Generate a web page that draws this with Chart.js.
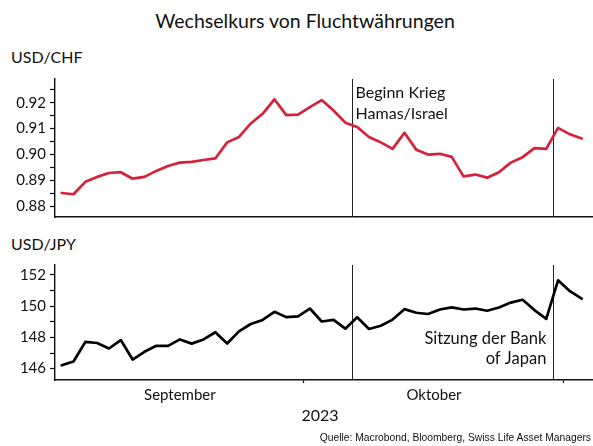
<!DOCTYPE html>
<html>
<head>
<meta charset="utf-8">
<script src="https://cdn.jsdelivr.net/npm/chart.js@4.4.0/dist/chart.umd.min.js"></script>
<style>
    body { margin: 0; background: #fff; }
    #wrap { position: relative; width: 593px; height: 446px; overflow: hidden; font-family: Lato, "Noto Sans", sans-serif; color: #111; }
    .txt { position: absolute; white-space: nowrap; line-height: 1; }
    .box { position: absolute; left: 0; width: 593px; }
</style>
</head>
<body>
<div id="wrap">
    <div class="txt" id="title" style="left:305px; top:11px; font-size:19.5px; transform:translateX(-50%);">Wechselkurs von Fluchtwährungen</div>
    <div class="txt" style="left:11px; top:49px; font-size:16px;">USD/CHF</div>
    <div class="txt" style="left:11px; top:236px; font-size:16px;">USD/JPY</div>
    <div class="box" style="top:66px; height:164px;"><canvas id="chfChart"></canvas></div>
    <div class="box" style="top:252px; height:168px;"><canvas id="jpyChart"></canvas></div>
    <div class="txt" id="year" style="left:320px; top:407px; font-size:16px; transform:translateX(-50%);">2023</div>
    <div class="txt" style="right:2px; top:433px; font-size:10.3px; font-family:'Liberation Sans', Arial, sans-serif;">Quelle: Macrobond, Bloomberg, Swiss Life Asset Managers</div>
</div>

<script>
// Handelstage
const dates = [
    "2023-09-01", "2023-09-04", "2023-09-05", "2023-09-06", "2023-09-07", "2023-09-08",
    "2023-09-11", "2023-09-12", "2023-09-13", "2023-09-14", "2023-09-15",
    "2023-09-18", "2023-09-19", "2023-09-20", "2023-09-21", "2023-09-22",
    "2023-09-25", "2023-09-26", "2023-09-27", "2023-09-28", "2023-09-29",
    "2023-10-02", "2023-10-03", "2023-10-04", "2023-10-05", "2023-10-06",
    "2023-10-09", "2023-10-10", "2023-10-11", "2023-10-12", "2023-10-13",
    "2023-10-16", "2023-10-17", "2023-10-18", "2023-10-19", "2023-10-20",
    "2023-10-23", "2023-10-24", "2023-10-25", "2023-10-26", "2023-10-27",
    "2023-10-30", "2023-10-31", "2023-11-01", "2023-11-02"
];

// USD/CHF
const usdChf = [
    0.8852, 0.8847, 0.8895, 0.8914, 0.8929, 0.8932,
    0.8907, 0.8914, 0.8937, 0.8956, 0.8969,
    0.8972, 0.8979, 0.8985, 0.9047, 0.9068,
    0.9120, 0.9157, 0.9213, 0.9152, 0.9154,
    0.9183, 0.9210, 0.9170, 0.9123, 0.9106,
    0.9068, 0.9047, 0.9022, 0.9084, 0.9019,
    0.9000, 0.9003, 0.8991, 0.8916, 0.8923,
    0.8911, 0.8932, 0.8969, 0.8990, 0.9025,
    0.9022, 0.9103, 0.9078, 0.9062
];

// USD/JPY
const usdJpy = [
    146.21, 146.46, 147.71, 147.64, 147.29, 147.83,
    146.58, 147.08, 147.46, 147.46, 147.87,
    147.60, 147.87, 148.33, 147.61, 148.39,
    148.86, 149.12, 149.64, 149.30, 149.35,
    149.85, 149.02, 149.12, 148.56, 149.29,
    148.54, 148.75, 149.14, 149.81, 149.58,
    149.50, 149.79, 149.92, 149.79, 149.85,
    149.71, 149.92, 150.23, 150.41, 149.75,
    149.19, 151.66, 150.96, 150.48
];

// Achsenbeschriftungen
const chfLabels = [0.88, 0.89, 0.90, 0.91, 0.92];
const jpyLabels = [146, 148, 150, 152];
const months = ["September", "Oktober"];

// Ereignisse (Position auf der Handelstag-Achse)
const eventAt = [24.53, 41.6];
const eventText = [["Beginn Krieg", "Hamas/Israel"], ["Sitzung der Bank", "of Japan"]];

// Monatswechsel aus den Daten ableiten
const monthStarts = [];
dates.forEach((d, i) => {
    if (i > 0 && d.slice(5, 7) !== dates[i - 1].slice(5, 7)) monthStarts.push(i - 0.5);
});
const monthCenters = months.map((m, i) => ((i === 0 ? -0.5 : monthStarts[i - 1]) + monthStarts[i]) / 2);

const FONT = "Lato, 'Noto Sans', sans-serif";
const INK = "#111";

function points(values) {
    return values.map((v, i) => ({ x: i, y: v }));
}

// Vertikale Linien + Texte
const eventLines = {
    id: "eventLines",
    beforeDatasetsDraw(chart) {
        const { ctx, chartArea, scales } = chart;
        ctx.save();
        ctx.strokeStyle = "#222";
        ctx.lineWidth = 1;
        eventAt.forEach(v => {
            const px = Math.round(scales.x.getPixelForValue(v)) + 0.5;
            ctx.beginPath();
            ctx.moveTo(px, chartArea.top);
            ctx.lineTo(px, chartArea.bottom);
            ctx.stroke();
        });
        ctx.restore();
    },
    afterDatasetsDraw(chart, args, opts) {
        if (opts.which === undefined) return;
        const { ctx, chartArea, scales } = chart;
        const px = scales.x.getPixelForValue(eventAt[opts.which]);
        ctx.save();
        ctx.fillStyle = INK;
        ctx.textBaseline = "alphabetic";
        eventText[opts.which].forEach((t, k) => {
            if (opts.which === 0) {
                ctx.font = "16px " + FONT;
                ctx.textAlign = "left";
                ctx.fillText(t, px + 4, chartArea.top + 19 + k * 21);
            } else {
                ctx.font = "16.5px " + FONT;
                ctx.textAlign = "right";
                ctx.fillText(t, px - 7, chartArea.bottom - 36 + k * 19.5);
            }
        });
        ctx.restore();
    }
};

function yAxis(min, max, step, labels, digits) {
    return {
        min: min,
        max: max,
        afterFit: s => { s.width = 55; },
        border: { display: true, color: INK, width: 1.4 },
        grid: { drawOnChartArea: false, drawTicks: true, tickLength: 5, tickColor: INK, tickWidth: 1.2 },
        ticks: {
            stepSize: step,
            includeBounds: false,
            autoSkip: false,
            padding: 4,
            color: INK,
            font: { family: FONT, size: 15 },
            callback: v => labels.some(l => Math.abs(l - v) < 1e-6) ? v.toFixed(digits) : ""
        }
    };
}

const xRange = { min: -0.567, max: 44.956 };

function baseOptions() {
    return {
        responsive: true,
        maintainAspectRatio: false,
        animation: false,
        events: [],
        plugins: { legend: { display: false }, tooltip: { enabled: false } },
        elements: { point: { radius: 0 }, line: { tension: 0, borderJoinStyle: "round", borderCapStyle: "round" } }
    };
}

// Oberes Panel: USD/CHF
const chfOpts = baseOptions();
chfOpts.layout = { padding: { top: 10, bottom: 0, left: 0, right: 0 } };
chfOpts.plugins.eventLines = { which: 0 };
chfOpts.scales = {
    x: {
        type: "linear",
        min: xRange.min,
        max: xRange.max,
        afterFit: s => { s.height = 10; },
        border: { display: true, color: INK, width: 1.4 },
        grid: { display: false },
        ticks: { display: false }
    },
    y: yAxis(0.87594, 0.92912, 0.005, chfLabels, 2)
};

new Chart(document.getElementById("chfChart"), {
    type: "line",
    data: {
        datasets: [{
            data: points(usdChf),
            borderColor: "#d7213c",
            borderWidth: 2.7
        }]
    },
    options: chfOpts,
    plugins: [eventLines]
});

// Unteres Panel: USD/JPY
const jpyOpts = baseOptions();
jpyOpts.layout = { padding: { top: 10, bottom: 0, left: 0, right: 0 } };
jpyOpts.plugins.eventLines = { which: 1 };
jpyOpts.scales = {
    x: {
        type: "linear",
        min: xRange.min,
        max: xRange.max,
        afterFit: s => { s.height = 40; },
        afterBuildTicks: s => {
            s.ticks = monthStarts.map(v => ({ value: v })).concat(monthCenters.map(v => ({ value: v })));
        },
        border: { display: true, color: INK, width: 1.4 },
        grid: {
            drawOnChartArea: false,
            drawTicks: true,
            tickLength: 3,
            tickWidth: 1.2,
            tickColor: c => monthStarts.includes(c.tick && c.tick.value) ? INK : "rgba(0,0,0,0)"
        },
        ticks: {
            autoSkip: false,
            maxRotation: 0,
            padding: 3,
            color: INK,
            font: { family: FONT, size: 15 },
            callback: v => {
                const k = monthCenters.indexOf(v);
                return k >= 0 ? months[k] : "";
            }
        }
    },
    y: yAxis(145.27, 152.64, 1, jpyLabels, 0)
};

new Chart(document.getElementById("jpyChart"), {
    type: "line",
    data: {
        datasets: [{
            data: points(usdJpy),
            borderColor: "#000",
            borderWidth: 2.7
        }]
    },
    options: jpyOpts,
    plugins: [eventLines]
});
</script>
</body>
</html>
